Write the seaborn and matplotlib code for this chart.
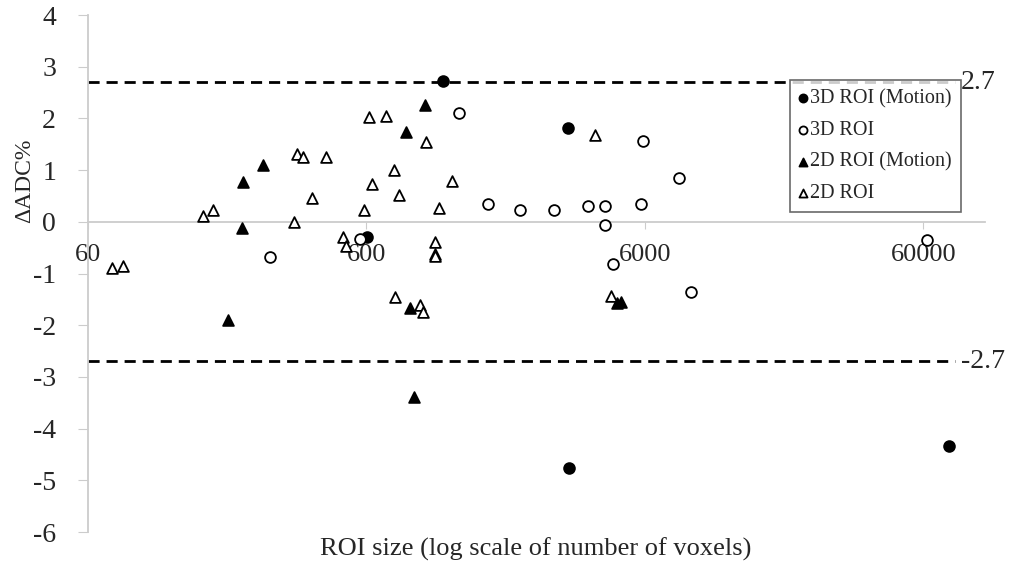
import pandas as pd
import numpy as np
import seaborn as sns
import matplotlib.pyplot as plt

# ROI size (voxels) and delta ADC % for each group
motion3d_x = [604, 1130, 3174, 3200, 74100]
motion3d_y = [-0.30, 2.72, 1.82, -4.76, -4.33]

roi3d_x = [270, 568, 1290, 1638, 2135, 2827, 3745, 4310, 4310, 5806, 5900, 7950, 4607, 8770, 61750]
roi3d_y = [-0.68, -0.33, 2.10, 0.35, 0.23, 0.23, 0.31, 0.31, -0.06, 0.35, 1.57, 0.85, -0.81, -1.35, -0.35]

motion2d_x = [191, 214, 216, 255, 833, 973, 859, 888, 4760, 4920]
motion2d_y = [-1.90, -0.12, 0.77, 1.10, 1.74, 2.26, -1.66, -3.38, -1.57, -1.55]

roi2d_x = [73, 80, 155, 169, 330, 382, 338, 355, 429, 588, 628, 494, 506, 612, 705,
           982, 753, 785, 1217, 1092, 1057, 1060, 1060, 759, 934, 957, 3968, 4530]
roi2d_y = [-0.89, -0.85, 0.12, 0.23, 0.00, 0.46, 1.32, 1.26, 1.26, 0.23, 0.73, -0.29, -0.46, 2.03, 2.05,
           1.55, 1.00, 0.52, 0.79, 0.27, -0.39, -0.62, -0.66, -1.45, -1.60, -1.74, 1.68, -1.43]

limit = 2.7
xticks = [60, 600, 6000, 60000]
yticks = list(range(-6, 5))

sns.set_style("white")
plt.rcParams['font.family'] = ['Liberation Serif', 'DejaVu Serif']

fig = plt.figure(figsize=(10.13, 5.67), dpi=100)
ax = fig.add_axes([0.0869, 0.0617, 0.8855, 0.9118])

groups = [
    (motion3d_x, motion3d_y, 'o', 'black', '3D ROI (Motion)'),
    (roi3d_x, roi3d_y, 'o', 'white', '3D ROI'),
    (motion2d_x, motion2d_y, '^', 'black', '2D ROI (Motion)'),
    (roi2d_x, roi2d_y, '^', 'white', '2D ROI'),
]
for gx, gy, m, fc, lab in groups:
    df = pd.DataFrame({'size': gx, 'dadc': gy})
    sns.scatterplot(data=df, x='size', y='dadc', marker=m, color=fc, edgecolor='black',
                    linewidth=1.3, s=60, ax=ax, label=lab, zorder=3)

ax.set_xscale('log')
ax.set_xlim(60, 100000)
ax.set_ylim(-6, 4)

# limits of agreement
ax.hlines([limit, -limit], 60, 78000, colors='black', linestyles=(0, (4, 2.5)), linewidth=2, zorder=2)
ax.text(82000, limit, '2.7', fontsize=20, va='center', ha='left')
ax.text(82000, -limit, '-2.7', fontsize=20, va='center', ha='left')

for s in ['top', 'right']:
    ax.spines[s].set_visible(False)
ax.spines['bottom'].set_position(('data', 0))
ax.spines['bottom'].set_color('#cccccc')
ax.spines['left'].set_color('#cccccc')
ax.spines['bottom'].set_linewidth(1.3)
ax.spines['left'].set_linewidth(1.3)

ax.set_xticks(xticks)
ax.set_xticklabels([str(t) for t in xticks])
ax.minorticks_off()
ax.set_yticks(yticks)
ax.set_yticklabels([str(t) for t in yticks])
ax.tick_params(axis='x', direction='out', length=5, color='#cccccc', labelsize=19, pad=11)
ax.tick_params(axis='y', direction='out', length=7, color='#cccccc', labelsize=20, pad=16)
ax.xaxis.set_ticks_position('bottom')
ax.yaxis.set_ticks_position('left')

ax.set_xlabel('')
ax.set_ylabel('ΔADC%', fontsize=17)
ax.yaxis.set_label_coords(-0.059, 0.68)
fig.text(0.529, 0.01, 'ROI size (log scale of number of voxels)', fontsize=19, ha='center', va='bottom')

leg = ax.legend(loc='upper left', bbox_to_anchor=(0.7826, 0.874), borderaxespad=0, fontsize=14.5,
                frameon=True, fancybox=False, edgecolor='#444444', handletextpad=0.15, handlelength=0.4,
                labelspacing=0.62, borderpad=0.45, markerscale=0.75)
leg.get_frame().set_linewidth(1.2)

plt.savefig('out.png', dpi=100)
